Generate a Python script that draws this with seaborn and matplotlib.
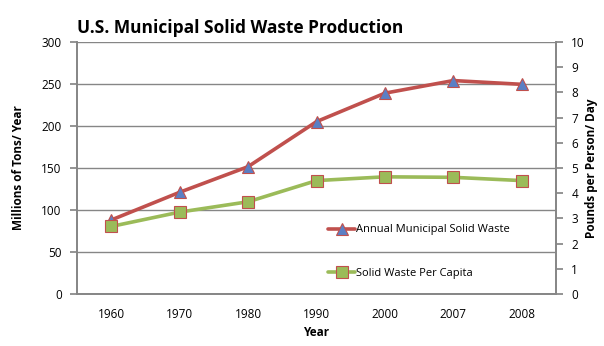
import matplotlib
matplotlib.use("Agg")
import matplotlib.pyplot as plt
import seaborn as sns
import pandas as pd
import numpy as np
from matplotlib.ticker import FixedLocator

years = ["1960", "1970", "1980", "1990", "2000", "2007", "2008"]
annual_msw = [88.1, 121.1, 151.6, 205.2, 239.1, 254.1, 249.6]
per_capita = [2.68, 3.25, 3.66, 4.50, 4.65, 4.63, 4.50]

sns.set_theme(style="white")
plt.rcParams['font.family'] = ['Open Sans', 'DejaVu Sans']
plt.rcParams['text.color'] = 'black'

df = pd.DataFrame({"pos": np.arange(len(years)), "Year": years,
                   "msw": annual_msw, "pc": per_capita})

fig = plt.figure(figsize=(6.04, 3.46), dpi=100)
ax = fig.add_axes([77/604, 52/346, (556-77)/604, (294-42)/346])
ax2 = ax.twinx()

red = "#C0504D"
green = "#9BBB59"
grid = "#868686"

sns.lineplot(data=df, x="pos", y="msw", ax=ax, color=red, linewidth=2.6,
             marker="^", markersize=8, markerfacecolor="#5B7FC4",
             markeredgecolor=red, markeredgewidth=0.8,
             label="Annual Municipal Solid Waste", legend=False)
sns.lineplot(data=df, x="pos", y="pc", ax=ax2, color=green, linewidth=2.6,
             marker="s", markersize=8, markerfacecolor=green,
             markeredgecolor=red, markeredgewidth=0.8,
             label="Solid Waste Per Capita", legend=False)

ax.set_xlim(-0.5, len(years) - 0.5)
ax.set_ylim(0, 300)
ax.set_yticks(np.arange(0, 301, 50))
ax2.set_ylim(0, 10)
ax2.set_yticks(np.arange(0, 11, 1))

ax.set_xticks(np.arange(len(years)))
ax.set_xticklabels(years)
ax.xaxis.set_minor_locator(FixedLocator(np.arange(-0.5, len(years), 1.0)))
ax.tick_params(axis="x", which="major", length=0, labelsize=8.5, pad=10, labelcolor="black")
ax.tick_params(axis="x", which="minor", length=5, color=grid, direction="out")
ax.tick_params(axis="y", length=5, color=grid, labelsize=8.5, direction="out", pad=6, labelcolor="black")
ax2.tick_params(axis="y", length=5, color=grid, labelsize=8.5, direction="out", pad=6, labelcolor="black")

ax.grid(axis="y", color=grid, linewidth=1)
ax.set_axisbelow(True)
for a in (ax, ax2):
    a.spines["top"].set_visible(False)
    a.spines["left"].set_color(grid)
    a.spines["bottom"].set_color(grid)
    a.spines["right"].set_color(grid)

ax.set_xlabel("Year", fontsize=8.5, fontweight="bold", labelpad=4, color="black")
ax.set_ylabel("Millions of Tons/ Year", fontsize=8.5, fontweight="bold", labelpad=12, color="black")
ax2.set_ylabel("Pounds per Person/ Day", fontsize=8.5, fontweight="bold",
               rotation=90, color="black")
ax2.yaxis.label.set_va("center")
ax2.yaxis.label.set_ha("center")
ax2.yaxis.set_label_coords((591-77)/479, 0.5)

fig.text(77/604, 1 - 28/346, "U.S. Municipal Solid Waste Production",
         fontsize=12.5, fontweight="bold", va="center", ha="left", color="black")

h1, l1 = ax.get_legend_handles_labels()
h2, l2 = ax2.get_legend_handles_labels()
leg = ax2.legend(h1 + h2, l1 + l2, loc="upper left",
                 bbox_to_anchor=((324-77)/479, (294-220)/252),
                 frameon=False, fontsize=8, labelspacing=2.9,
                 handlelength=2.4, handletextpad=0.1, borderaxespad=0)
for t in leg.get_texts():
    t.set_color("black")

fig.savefig("out.png", dpi=100)
